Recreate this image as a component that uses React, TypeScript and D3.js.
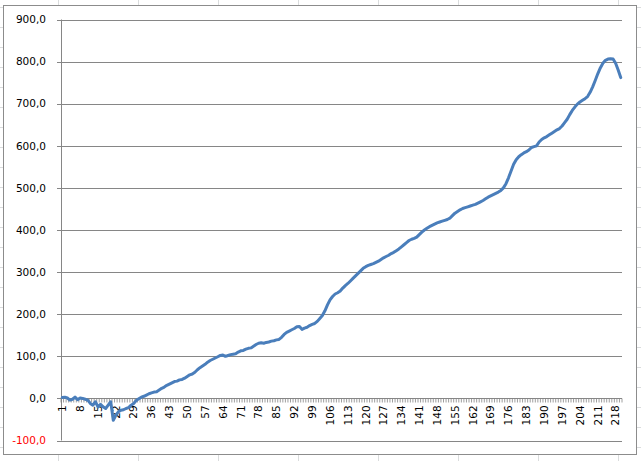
import React from "react";
import * as d3 from "d3";

const values: number[] = [
  2, 3, 1, -4, -2, 3, -3, 1, 0, -2,
  -4, -12, -16, -8, -20, -14, -20, -24, -16, -8,
  -52, -40, -32, -28, -27, -24, -22, -16, -12, -5,
  -1, 3, 5, 8, 11, 13, 15, 16, 20, 24,
  27, 31, 34, 37, 40, 41, 44, 45, 48, 52,
  56, 58, 62, 68, 73, 77, 81, 86, 90, 93,
  96, 99, 102, 103, 100, 102, 104, 105, 106, 110,
  113, 114, 117, 119, 120, 124, 128, 131, 132, 131,
  133, 134, 136, 137, 139, 140, 145, 152, 157, 160,
  163, 166, 170, 171, 164, 167, 169, 173, 176, 178,
  183, 190, 197, 208, 222, 234, 242, 248, 251, 255,
  262, 268, 273, 279, 285, 291, 297, 303, 309, 313,
  316, 318, 320, 323, 326, 330, 334, 337, 340, 344,
  347, 351, 355, 360, 365, 370, 375, 378, 380, 383,
  389, 395, 400, 404, 408, 411, 414, 417, 419, 421,
  423, 425, 428, 434, 440, 444, 448, 451, 453, 455,
  457, 459, 461, 464, 467, 470, 474, 478, 481, 484,
  487, 490, 494, 500, 510, 524, 540, 556, 567, 574,
  579, 583, 586, 590, 596, 598, 600, 609, 615, 619,
  622, 626, 630, 634, 638, 641, 647, 655, 663, 674,
  684, 692, 699, 704, 708, 712, 717, 727, 740, 755,
  771, 785, 796, 803, 806, 807, 806, 796, 780, 762,
];

const categories: number[] = values.map((_, i) => i + 1);
const yTicks: number[] = [-100, 0, 100, 200, 300, 400, 500, 600, 700, 800, 900];
const labelStep = 7;

const W = 641;
const H = 461;
const FONT = "'DejaVu Sans', Verdana, sans-serif";

export default function App() {
  const left = 61;
  const right = 622;
  const top = 19.5;
  const bottom = 440.5;

  const x = d3
    .scaleBand<number>()
    .domain(categories)
    .range([left, right])
    .paddingInner(0)
    .paddingOuter(0);
  const y = d3.scaleLinear().domain([-100, 900]).range([bottom, top]);

  const cx = (c: number) => (x(c) as number) + x.bandwidth() / 2;
  const line = d3
    .line<number>()
    .x((_, i) => cx(categories[i]))
    .y((v) => y(v))
    .curve(d3.curveLinear);

  const y0 = y(0);
  const bandEdges = d3.range(categories.length + 1).map((k) => left + k * x.bandwidth());

  const sheetCols = d3.range(-22, W, 80);
  const sheetRows = d3.range(7, H, 20);

  const fmt = (v: number) => v.toFixed(1).replace(".", ",");

  return (
    <svg
      width={W}
      height={H}
      style={{ position: "absolute", left: 0, top: 0, display: "block" }}
    >
      <rect x={0} y={0} width={W} height={H} fill="#ffffff" />
      {sheetCols.map((c) => (
        <line key={"sc" + c} x1={c + 0.5} x2={c + 0.5} y1={0} y2={H} stroke="#dadcdd" strokeWidth={1} />
      ))}
      {sheetRows.map((r) => (
        <line key={"sr" + r} x1={0} x2={W} y1={r + 0.5} y2={r + 0.5} stroke="#dadcdd" strokeWidth={1} />
      ))}
      <rect x={3.5} y={5.5} width={633} height={449} fill="#ffffff" stroke="#8c8c8c" strokeWidth={1} />

      {yTicks.map((t) => (
        <line
          key={"g" + t}
          x1={left - 4}
          x2={right}
          y1={Math.round(y(t)) + 0.5}
          y2={Math.round(y(t)) + 0.5}
          stroke="#868686"
          strokeWidth={1}
        />
      ))}
      <line x1={left + 0.5} x2={left + 0.5} y1={top} y2={bottom} stroke="#868686" strokeWidth={1} />

      {yTicks.map((t) => (
        <text
          key={"yl" + t}
          x={46}
          y={y(t)}
          dy="0.36em"
          textAnchor="end"
          fontFamily={FONT}
          fontSize={10.5}
          fill={t < 0 ? "#ff0000" : "#000000"}
        >
          {fmt(t)}
        </text>
      ))}

      {bandEdges.map((ex, k) => (
        <line
          key={"xt" + k}
          x1={ex}
          x2={ex}
          y1={Math.round(y0) + 0.5}
          y2={Math.round(y0) + 4.5}
          stroke="#868686"
          strokeWidth={0.8}
        />
      ))}

      {categories
        .filter((c) => (c - 1) % labelStep === 0)
        .map((c) => (
          <text
            key={"xl" + c}
            transform={`translate(${cx(c)},${y0 + 7}) rotate(-90)`}
            dy="0.36em"
            textAnchor="end"
            fontFamily={FONT}
            fontSize={10.5}
            fill="#000000"
          >
            {c}
          </text>
        ))}

      <path
        d={line(values) || ""}
        fill="none"
        stroke="#4a7ebb"
        strokeWidth={3}
        strokeLinejoin="round"
        strokeLinecap="round"
      />
    </svg>
  );
}
